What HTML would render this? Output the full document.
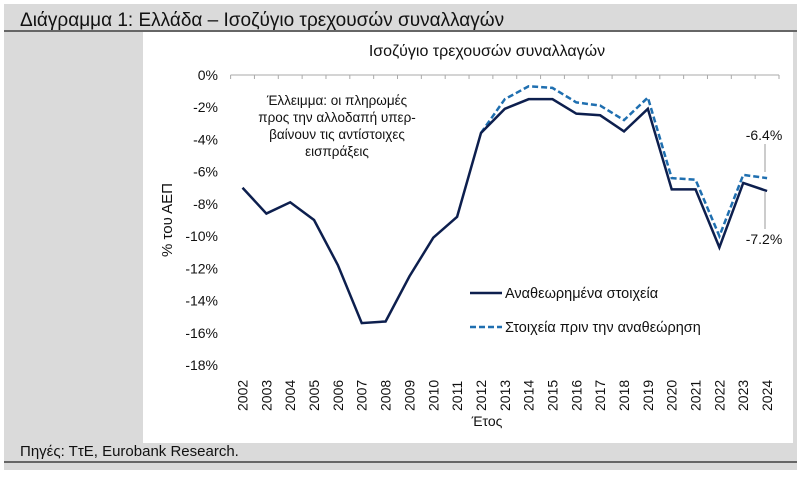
<!DOCTYPE html>
<html><head><meta charset="utf-8"><style>
body{margin:0;width:800px;height:474px;background:#fff;overflow:hidden;font-family:"Liberation Sans","DejaVu Sans",sans-serif}
</style></head><body>
<svg width="800" height="474" xmlns="http://www.w3.org/2000/svg">
<rect x="4" y="4" width="793" height="466" fill="#dadada"/>
<text x="20" y="26" font-size="19" fill="#111">Διάγραμμα 1: Ελλάδα – Ισοζύγιο τρεχουσών συναλλαγών</text>
<line x1="4" y1="31" x2="797" y2="31" stroke="#222" stroke-width="1.2"/>
<rect x="143" y="32" width="650" height="411" fill="#fff"/>
<text x="20" y="456" font-size="15" fill="#111">Πηγές: ΤτΕ, Eurobank Research.</text>
<line x1="4" y1="462" x2="797" y2="462" stroke="#222" stroke-width="1.2"/>
<text x="487" y="56" font-size="16" text-anchor="middle" fill="#111">Ισοζύγιο τρεχουσών συναλλαγών</text>
<g id="chart"></g>
<text transform="translate(172,220) rotate(-90)" font-size="15" text-anchor="middle" fill="#111">% του ΑΕΠ</text>
<text x="487" y="426" font-size="14" text-anchor="middle" fill="#111">Έτος</text>
<g font-size="13.5" text-anchor="middle" fill="#111">
<text x="337" y="105">Έλλειμμα: οι πληρωμές</text>
<text x="337" y="122">προς την αλλοδαπή υπερ-</text>
<text x="337" y="139">βαίνουν τις αντίστοιχες</text>
<text x="337" y="156">εισπράξεις</text>
</g>
<line x1="470" y1="293" x2="502" y2="293" stroke="#0d1f4e" stroke-width="2.5"/>
<text x="505" y="298" font-size="14.5" fill="#111">Αναθεωρημένα στοιχεία</text>
<line x1="470" y1="327" x2="502" y2="327" stroke="#1f6fb0" stroke-width="2.5" stroke-dasharray="6,3"/>
<text x="505" y="332" font-size="14.5" fill="#111">Στοιχεία πριν την αναθεώρηση</text>
<text x="764" y="140" font-size="14" text-anchor="middle" fill="#111">-6.4%</text>
<text x="764" y="244" font-size="14" text-anchor="middle" fill="#111">-7.2%</text>
<line x1="765" y1="144" x2="765" y2="172" stroke="#999"/>
<line x1="765" y1="192" x2="765" y2="229" stroke="#999"/>
</svg>
<script>
const years=["2002","2003","2004","2005","2006","2007","2008","2009","2010","2011","2012","2013","2014","2015","2016","2017","2018","2019","2020","2021","2022","2023","2024"];
const revised=[-7.0,-8.6,-7.9,-9.0,-11.8,-15.4,-15.3,-12.5,-10.1,-8.8,-3.6,-2.1,-1.5,-1.5,-2.4,-2.5,-3.5,-2.1,-7.1,-7.1,-10.7,-6.7,-7.2];
const previous=[null,null,null,null,null,null,null,null,null,null,-3.6,-1.5,-0.7,-0.8,-1.7,-1.9,-2.8,-1.4,-6.4,-6.5,-10.0,-6.2,-6.4];
const yTicks=[0,-2,-4,-6,-8,-10,-12,-14,-16,-18];
const NS="http://www.w3.org/2000/svg";
const g=document.getElementById('chart');
const x0=230.6,x1=779,yTop=75,yBot=365,yMin=-18,yMax=0;
const bw=(x1-x0)/years.length;
const xs=i=>x0+bw*(i+0.5);
const ys=v=>yTop+(yMax-v)/(yMax-yMin)*(yBot-yTop);
function mk(t,a){const e=document.createElementNS(NS,t);for(const k in a)e.setAttribute(k,a[k]);g.appendChild(e);return e;}
let ax=mk('line',{x1:x0,y1:ys(0),x2:x1,y2:ys(0),stroke:'#aaa'});


for(let i=0;i<=years.length;i++){let t=mk('line',{x1:x0+bw*i,y1:ys(0),x2:x0+bw*i,y2:ys(0)+4,stroke:'#aaa'});

}
yTicks.forEach(v=>{let t=mk('text',{x:218,y:ys(v)+5,'font-size':14,'text-anchor':'end',fill:'#111'});t.textContent=v+'%';

});
years.forEach((y,i)=>{let t=mk('text',{transform:`translate(${xs(i)+5},${411}) rotate(-90)`,'font-size':14,fill:'#111'});t.textContent=y;

});
function path(arr){let d='';arr.forEach((v,i)=>{if(v==null)return;d+=(d?'L':'M')+xs(i)+','+ys(v);});return d;}
let p2=mk('path',{d:path(previous),fill:'none',stroke:'#1f6fb0','stroke-width':2.5,'stroke-dasharray':'6,3'});


let p1=mk('path',{d:path(revised),fill:'none',stroke:'#0d1f4e','stroke-width':2.5});


</script>
</body></html>
